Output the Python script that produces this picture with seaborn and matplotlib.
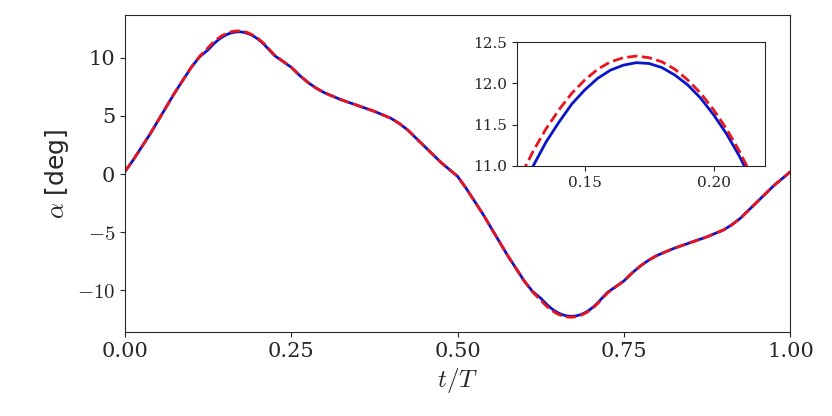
import matplotlib
matplotlib.use("Agg")
import matplotlib.pyplot as plt
import seaborn as sns
import pandas as pd

sns.set_style("ticks")
plt.rcParams['font.family'] = ['DejaVu Serif']
plt.rcParams['mathtext.fontset'] = 'cm'

# first half-period; second half is the mirrored, negated motion
t_half = [0, 0.0125, 0.025, 0.0375, 0.05, 0.0625, 0.075, 0.0875, 0.1, 0.1125, 0.125,
          0.13, 0.135, 0.14, 0.145, 0.15, 0.155, 0.16, 0.165, 0.17, 0.175, 0.18, 0.185,
          0.19, 0.195, 0.2, 0.205, 0.21, 0.215, 0.225, 0.2375, 0.25, 0.2625, 0.275, 0.2875,
          0.3, 0.3125, 0.325, 0.3375, 0.35, 0.3625, 0.375, 0.3875, 0.4, 0.4125, 0.425,
          0.4375, 0.45, 0.4625, 0.475, 0.4875]
blue_half = [0.2, 1.2, 2.3, 3.4, 4.6, 5.8, 7.0, 8.1, 9.2, 10.1, 10.7,
             11.0, 11.29, 11.53, 11.75, 11.92, 12.06, 12.16, 12.22, 12.25, 12.24, 12.19, 12.10,
             11.98, 11.82, 11.62, 11.39, 11.12, 10.81, 10.2, 9.7, 9.2, 8.5, 7.9, 7.4,
             7.0, 6.7, 6.4, 6.15, 5.9, 5.65, 5.4, 5.1, 4.8, 4.35, 3.8,
             3.1, 2.4, 1.7, 1.0, 0.4]
red_half = [0.2, 1.2, 2.3, 3.4, 4.6, 5.8, 7.0, 8.1, 9.2, 10.15, 10.87,
            11.18, 11.45, 11.68, 11.88, 12.04, 12.17, 12.26, 12.31, 12.33, 12.31, 12.26, 12.17,
            12.04, 11.88, 11.68, 11.45, 11.18, 10.87, 10.25, 9.72, 9.2, 8.5, 7.9, 7.4,
            7.0, 6.7, 6.4, 6.15, 5.9, 5.65, 5.4, 5.1, 4.8, 4.35, 3.8,
            3.1, 2.4, 1.7, 1.0, 0.4]

t = t_half + [x + 0.5 for x in t_half] + [1.0]
alpha_blue = blue_half + [-v for v in blue_half] + [blue_half[0]]
alpha_red = red_half + [-v for v in red_half] + [red_half[0]]

df = pd.DataFrame({"t": t, "blue": alpha_blue, "red": alpha_red})
blue = "#0a14c8"
red = "#e8141e"

fig = plt.figure(figsize=(8.32, 4.16), dpi=100)
ax = fig.add_axes([0.15, 0.202, 0.8, 0.762])
sns.lineplot(data=df, x="t", y="blue", ax=ax, color=blue, lw=2, sort=False)
sns.lineplot(data=df, x="t", y="red", ax=ax, color=red, lw=2, ls="--", sort=False)
ax.set_xlim(0, 1)
ax.set_ylim(-13.6, 13.7)
ax.set_xticks([0, 0.25, 0.5, 0.75, 1.0])
ax.set_xticklabels(["0.00", "0.25", "0.50", "0.75", "1.00"])
ax.set_yticks([-10, -5, 0, 5, 10])
ax.set_yticklabels(["$-10$", "$-5$", "0", "5", "10"])
ax.tick_params(labelsize=15)
ax.set_xlabel("$t/T$", fontsize=18)
ax.set_ylabel(r"$\alpha$ [deg]", fontsize=18, family="DejaVu Sans")

ins = fig.add_axes([0.621, 0.601, 0.298, 0.298])
sns.lineplot(data=df, x="t", y="blue", ax=ins, color=blue, lw=2, sort=False)
sns.lineplot(data=df, x="t", y="red", ax=ins, color=red, lw=2, ls="--", sort=False)
ins.set_xlim(0.1236, 0.2198)
ins.set_ylim(11.0, 12.5)
ins.set_xticks([0.15, 0.2])
ins.set_yticks([11.0, 11.5, 12.0, 12.5])
ins.set_xlabel("")
ins.set_ylabel("")
ins.tick_params(labelsize=11)

fig.savefig("out.png", dpi=100)
